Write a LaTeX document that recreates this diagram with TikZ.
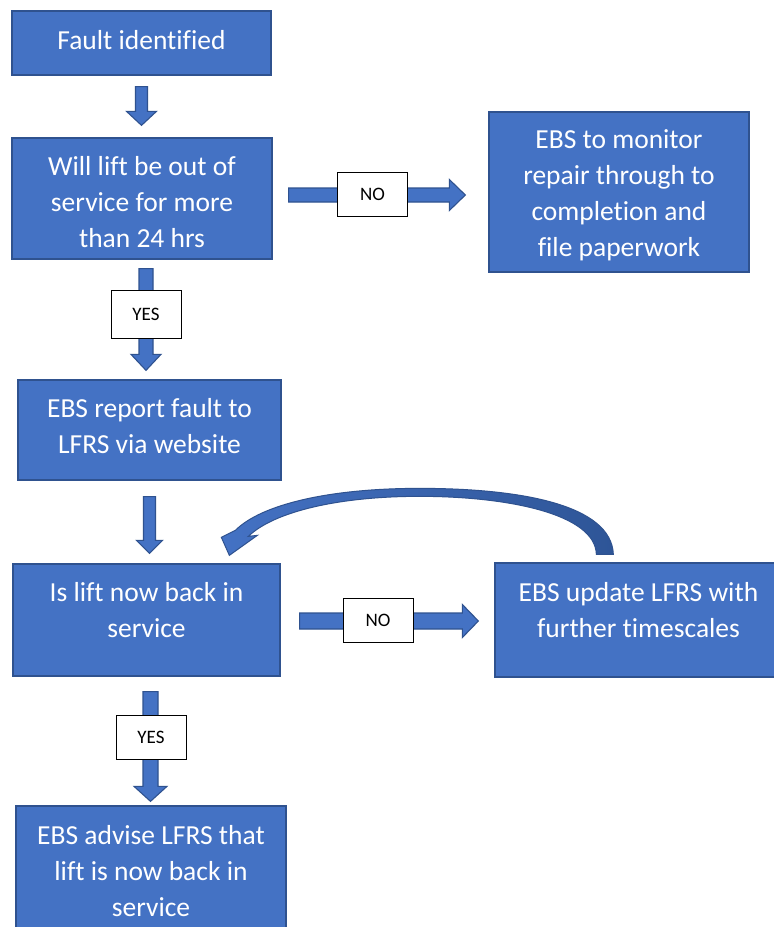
\documentclass[tikz,border=0pt]{standalone}
\usepackage{fontspec}
\setmainfont{Carlito}[Ligatures=NoCommon]
\usetikzlibrary{calc}
\definecolor{bfill}{HTML}{4472C4}
\definecolor{bord}{HTML}{2F528F}
\definecolor{bdark}{HTML}{2E5597}
\newcommand\bxtext[4]{\parbox[c][#2pt][c]{#1pt}{\centering #4\par\vspace{#3pt}}}
\newcommand\dnarrow[5]{\draw[blk] let \p1=(#1),\p2=(#2) in
  (\x1-#3pt,\y1) -- (\x1+#3pt,\y1) -- (\x1+#3pt,\y2+#5pt) -- (\x1+#4pt,\y2+#5pt) -- (\x1,\y2)
  -- (\x1-#4pt,\y2+#5pt) -- (\x1-#3pt,\y2+#5pt) -- cycle;}
\newcommand\rtarrow[5]{\draw[blk] let \p1=(#1),\p2=(#2) in
  (\x1,\y1-#3pt) -- (\x2-#5pt,\y1-#3pt) -- (\x2-#5pt,\y1-#4pt) -- (\x2,\y1)
  -- (\x2-#5pt,\y1+#4pt) -- (\x2-#5pt,\y1+#3pt) -- (\x1,\y1+#3pt) -- cycle;}
\tikzset{
  box/.style={draw=bord, fill=bfill, line width=1.3pt, inner sep=0pt, text=white,
    font=\fontsize{27.5}{36}\selectfont},
  lbl/.style={draw=black, fill=white, line width=0.9pt, minimum width=70pt,
    minimum height=44pt, inner sep=0pt, font=\fontsize{19}{22}\selectfont},
  blk/.style={draw=bord, fill=bfill, line width=1.1pt, line join=miter},
  curv/.style={draw=bord, line width=1pt, left color=bfill, right color=bdark}
}
\begin{document}
\begin{tikzpicture}[x=1pt,y=-1pt]
\clip (0,0) rectangle (774,927);
\fill[white] (0,0) rectangle (774,927);

% boxes
\node[box] (b1) at (141.5,43) {\bxtext{259}{64}{6}{Fault identified}};
\node[box] (b2) at (142,198.5) {\bxtext{260}{121}{-8}{Will lift be out of\\service for more\\than 24 hrs}};
\node[box] (r1) at (619,192) {\bxtext{260}{160}{-6}{EBS to monitor\\repair through to\\completion and\\file paperwork}};
\node[box] (b3) at (149.5,430) {\bxtext{263}{100}{7}{EBS report fault to\\LFRS via website}};
\node[box] (b4) at (146.5,620) {\bxtext{267}{112}{20}{Is lift now back in\\service}};
\node[box] (r2) at (638.5,620) {\bxtext{287}{114}{19}{EBS update LFRS with\\further timescales}};
\node[box] (b5) at (151,871) {\bxtext{270}{130}{0}{EBS advise LFRS that\\lift is now back in\\service}};

% arrow end points
\coordinate (a1s) at ($(b1.south)+(0,11)$);
\coordinate (a1e) at ($(b2.north)+(0,-12)$);
\coordinate (y1s) at ($(b2.south)+(4,9)$);
\coordinate (y1e) at ($(b3.north)+(-3.5,-9)$);
\coordinate (a3s) at ($(b3.south)+(0,16)$);
\coordinate (a3e) at ($(b4.north)+(0,-10)$);
\coordinate (y2s) at ($(b4.south)+(4,15)$);
\coordinate (y2e) at ($(b5.north)+(0,-4)$);
\coordinate (n1s) at ($(b2.east)+(16,-3.5)$);
\coordinate (n1e) at ($(r1.west)+(-23,0)$);
\coordinate (n2s) at ($(b4.east)+(19,1)$);
\coordinate (n2e) at ($(r2.west)+(-16,0)$);
\coordinate (cs) at ($(r2.north west)+(110.5,-8)$);
\coordinate (ce) at ($(b4.north west)+(217,-8)$);

% block arrows
\dnarrow{a1s}{a1e}{6}{15}{14}
\dnarrow{y1s}{y1e}{7}{15}{16}
\dnarrow{a3s}{a3e}{6}{13}{13}
\dnarrow{y2s}{y2e}{7.5}{16.5}{15}
\rtarrow{n1s}{n1e}{7}{15.5}{16}
\rtarrow{n2s}{n2e}{8}{16.5}{16}

% curved return arrow
\path[curv] ($(cs)+(8.5,0)$) .. controls ($(cs)+(6.5,-50)$) and ($(cs)+(-85.5,-66)$) .. ($(cs)+(-185.5,-66)$)
  .. controls ($(ce)+(100,-67)$) and ($(ce)+(32,-51)$) .. ($(ce)+(6,-25)$)
  -- ($(ce)+(-8,-18)$) -- (ce) -- ($(ce)+(28,-20)$) -- ($(ce)+(19,-19)$)
  .. controls ($(ce)+(45,-44)$) and ($(ce)+(110,-59)$) .. ($(cs)+(-185.5,-58)$)
  .. controls ($(cs)+(-95.5,-58)$) and ($(cs)+(-9.5,-40)$) .. ($(cs)+(-8.5,0)$) -- cycle;

% labels
\node[lbl, minimum height=48pt] (yes1) at (146,314) {YES};
\node[lbl] (yes2) at (151,737) {YES};
\node[lbl] (no1) at (372.5,194) {NO};
\node[lbl] (no2) at (378,620) {NO};
\end{tikzpicture}
\end{document}
